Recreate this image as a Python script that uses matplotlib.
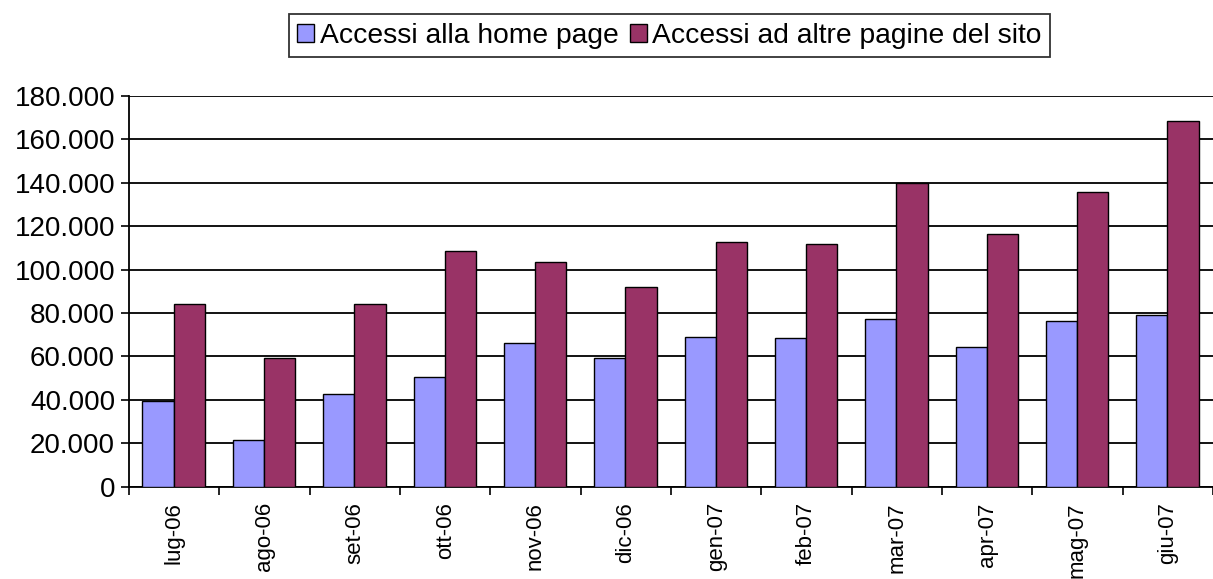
import numpy as np
import matplotlib
matplotlib.use("Agg")
import matplotlib.pyplot as plt
from matplotlib.ticker import FuncFormatter

# monthly page accesses
months = ["lug-06", "ago-06", "set-06", "ott-06", "nov-06", "dic-06",
          "gen-07", "feb-07", "mar-07", "apr-07", "mag-07", "giu-07"]
home_page = [39700, 21600, 42800, 50700, 66400, 59400,
             69100, 68400, 77400, 64500, 76500, 79100]
other_pages = [84100, 59300, 84000, 108700, 103400, 92100,
               112600, 111600, 139700, 116200, 135600, 168500]
series_names = ["Accessi alla home page", "Accessi ad altre pagine del sito"]

plt.rcParams['font.family'] = ['Liberation Sans', 'DejaVu Sans']

fig = plt.figure(figsize=(12.13, 5.79), dpi=100)
ax = fig.add_axes([0.1063, 0.159, 0.8937, 0.6759])

x = np.arange(len(months))
w = 0.345
ax.bar(x - w / 2 - 0.005, home_page, w, color="#9999FF", edgecolor="black",
       linewidth=1, label=series_names[0], zorder=3)
ax.bar(x + w / 2 - 0.005, other_pages, w, color="#993366", edgecolor="black",
       linewidth=1, label=series_names[1], zorder=3)

ax.set_xlim(-0.5, len(months) - 0.5)
ax.set_ylim(0, 180000)
ax.set_yticks(np.arange(0, 180001, 20000))
ax.yaxis.set_major_formatter(FuncFormatter(lambda v, p: f"{int(v):,}".replace(",", ".")))
ax.yaxis.grid(True, color="black", linewidth=1.3, zorder=0)

ax.set_xticks(x)
ax.set_xticklabels(months, rotation=90, fontsize=16)
ax.set_xticks(np.arange(-0.5, len(months), 1), minor=True)
ax.tick_params(axis="x", which="major", length=0, pad=11)
ax.tick_params(axis="x", which="minor", length=6, width=1.2, direction="out")
ax.tick_params(axis="y", length=6, width=1.2, labelsize=20, pad=4)

for s in ["top", "right"]:
    ax.spines[s].set_visible(False)
ax.spines["left"].set_linewidth(1.3)
ax.spines["bottom"].set_linewidth(1.3)

leg = fig.legend(loc="center", bbox_to_anchor=(0.552, 0.938), ncol=2,
                 fontsize=20.3, frameon=True, fancybox=False, handlelength=0.6,
                 handleheight=0.6, handletextpad=0.2, columnspacing=0.4,
                 borderpad=0.3, borderaxespad=0)
leg.get_frame().set_edgecolor("black")
leg.get_frame().set_linewidth(1.3)

fig.savefig("out.png", dpi=100)
